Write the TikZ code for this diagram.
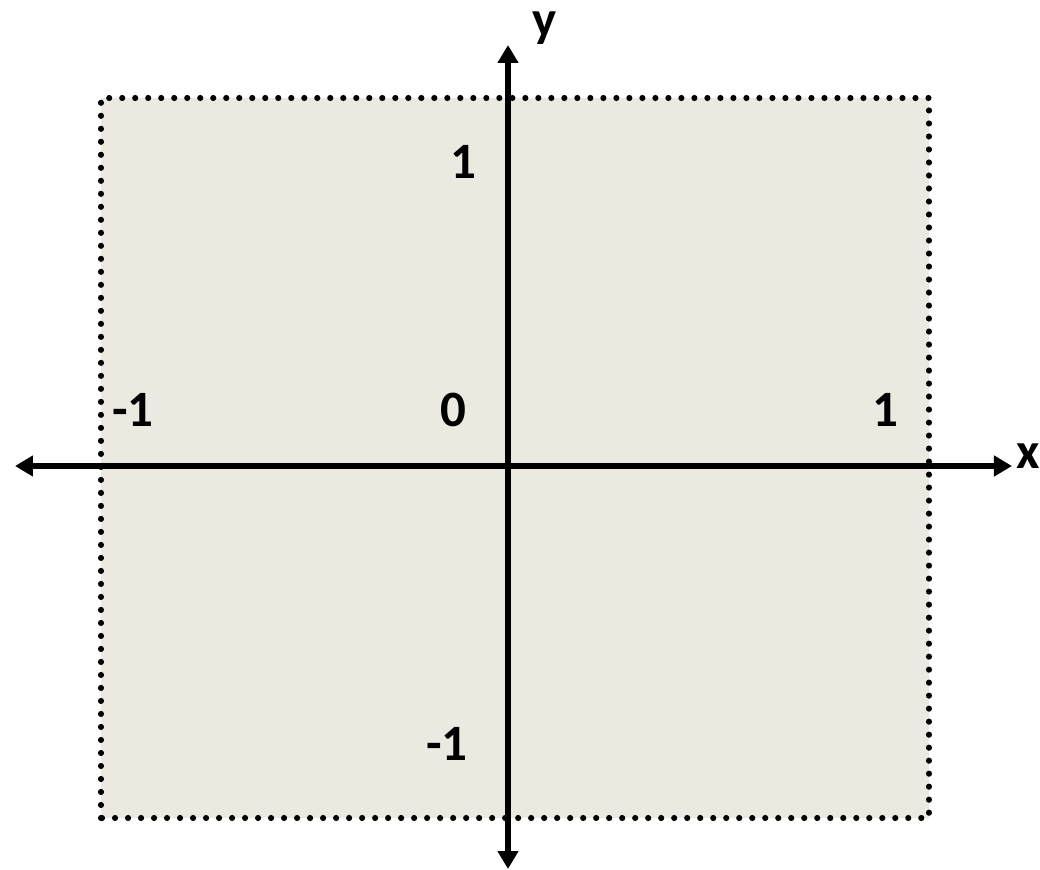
\documentclass[tikz,border=0pt]{standalone}
\usepackage{fontspec}
\setmainfont{Carlito}
\usetikzlibrary{arrows.meta}
\definecolor{boxfill}{RGB}{236,234,224}

\begin{document}
\begin{tikzpicture}[
    axis/.style={line width=2.85pt, {Triangle[length=0.36cm,width=0.4cm]}-{Triangle[length=0.36cm,width=0.4cm]}},
    dotbox/.style={fill=boxfill, line width=3.5pt, line cap=round, dash pattern=on 0pt off 7.4pt},
    lbl/.style={font=\fontsize{29}{30}\selectfont\bfseries, inner sep=0pt}
  ]
  \useasboundingbox (-10.16,-8.08) rectangle (10.64,9.32);
  \draw[dotbox] (-8.14,-7.04) rectangle (8.42,7.36);
  \coordinate (xl) at (-9.86,0);
  \coordinate (xr) at (10.08,0);
  \coordinate (yb) at (0,-8.06);
  \coordinate (yt) at (0,8.42);
  \draw[axis] (xl) -- (xr);
  \draw[axis] (yb) -- (yt);
  \node[lbl] (ylab) at (0.74,8.76) {y};
  \node[lbl] (xlab) at (10.4,0.2) {x};
  \node[lbl] (ytop) at (-0.9,6.08) {1};
  \node[lbl] (xneg) at (-7.5,1.12) {-1};
  \node[lbl] (zero) at (-1.1,1.12) {0};
  \node[lbl] (xpos) at (7.54,1.12) {1};
  \node[lbl] (ybot) at (-1.22,-5.56) {-1};
\end{tikzpicture}
\end{document}
